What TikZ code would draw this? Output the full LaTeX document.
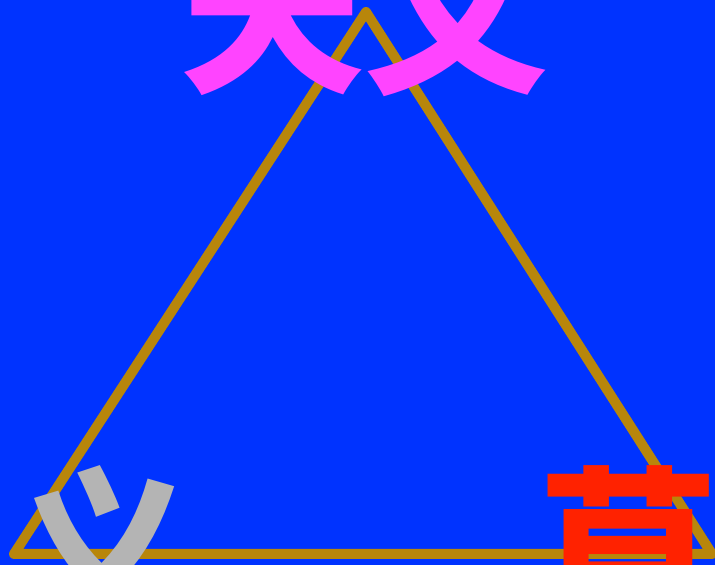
\documentclass[tikz,border=0pt]{standalone}
\usepackage{fontspec}
\newfontfamily\cjk{Noto Sans CJK SC}
\definecolor{bgblue}{RGB}{0,51,255}
\definecolor{edgegold}{RGB}{184,134,11}
\definecolor{labpink}{RGB}{255,68,255}
\definecolor{labgray}{RGB}{180,180,180}
\definecolor{labred}{RGB}{255,34,0}

\begin{document}
\begin{tikzpicture}[x=1pt,y=1pt,
  e/.style={draw=edgegold,line width=10pt,line join=round},
  lab/.style={font=\cjk\bfseries\fontsize{180}{180}\selectfont,inner sep=0pt}]
  \fill[bgblue] (0,0) rectangle (715,565);
  \useasboundingbox (0,0) rectangle (715,565);
  \coordinate (top) at (366,553);
  \coordinate (bl) at (14,11);
  \coordinate (br) at (712,11);
  \draw[e] (top)--(bl)--(br)--cycle;
  \node[lab,text=labpink,font=\cjk\bfseries\fontsize{184}{184}\selectfont] (ntop) at (364,557) {天文};
  \node[lab,text=labgray,font=\cjk\bfseries\fontsize{175}{175}\selectfont] (nbl) at (101,16) {义};
  \node[lab,text=labred] (nbr) at (628,14) {草};
\end{tikzpicture}
\end{document}
